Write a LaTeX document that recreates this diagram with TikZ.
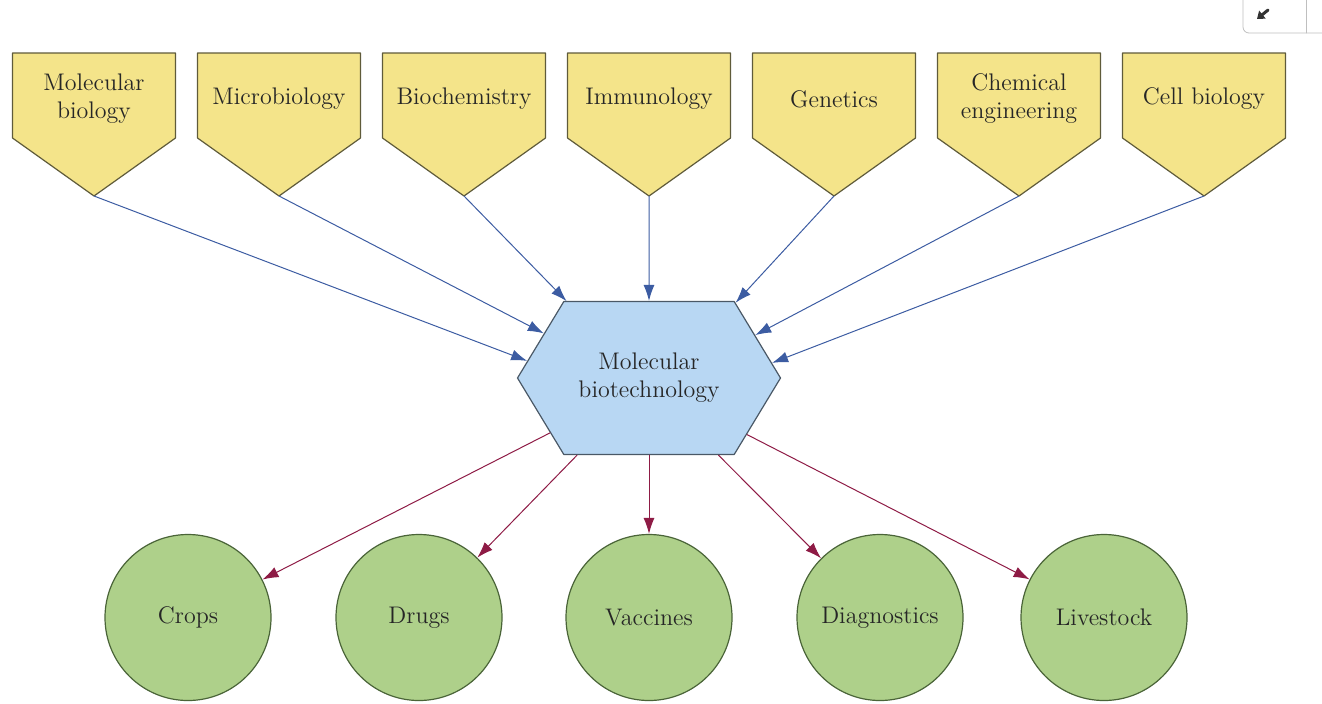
\documentclass[tikz,border=0pt]{standalone}
\usetikzlibrary{shapes.symbols,arrows.meta}
\definecolor{fieldfill}{HTML}{F4E48A}
\definecolor{fieldline}{HTML}{5F5B3A}
\definecolor{corefill}{HTML}{B8D7F3}
\definecolor{coreline}{HTML}{4A5866}
\definecolor{prodfill}{HTML}{AED08A}
\definecolor{prodline}{HTML}{4A6438}
\definecolor{feedblue}{HTML}{3C5CA2}
\definecolor{yieldred}{HTML}{8E1B45}
\begin{document}
\begin{tikzpicture}[
        x=0.5pt, y=-0.5pt,
        line cap=round,
        line join=round,
        every node/.style={font=\large, text=black!85},
        fieldshape/.style={draw=fieldline, fill=fieldfill, line width=0.6pt},
        field/.style={align=center, inner sep=0pt, minimum width=81.5pt, minimum height=42.5pt},
        core/.style={signal, signal to=east and west, signal pointer angle=117.6,
            draw=coreline, fill=corefill, line width=0.6pt, align=center,
            inner sep=0pt, minimum width=131.5pt, minimum height=76.5pt},
        product/.style={circle, draw=prodline, fill=prodfill, line width=0.6pt,
            inner sep=0pt, minimum size=83pt},
        feed/.style={draw=feedblue, line width=0.5pt, -{Latex[length=8pt,width=5.5pt]}},
        yield/.style={draw=yieldred, line width=0.5pt, -{Latex[length=8pt,width=5.5pt]}}
    ]
        \useasboundingbox (0,0) rectangle (1322,703);
        % Source fields (pentagons pointing down)
        \foreach \nm/\px/\txt in {molbio/94/{Molecular\\biology}, microbio/279/{Microbiology},
                biochem/464/{Biochemistry}, immuno/649/{Immunology}, genetics/834/{Genetics},
                chemeng/1019/{Chemical\\engineering}, cellbio/1204/{Cell biology}}{
            \filldraw[fieldshape] (\px-81.5,53) -- (\px+81.5,53) -- (\px+81.5,138)
                -- (\px,196) -- (\px-81.5,138) -- cycle;
            \node[field] (\nm) at (\px,99) {\txt};
            \coordinate (\nm tip) at (\px,196);
        }
        % Central field
        \node[core] (core) at (649,378) {Molecular\\biotechnology};
        % Products
        \foreach \nm/\px/\txt in {crops/188/Crops, drugs/419/Drugs, vaccines/649/Vaccines,
                diagnostics/880/Diagnostics, livestock/1104/Livestock}{
            \node[product] (\nm) at (\px,617.5) {\txt};
        }
        % Inputs
        \foreach \nm/\ang in {molbio/172.8, microbio/157.9, biochem/137.8, immuno/90,
                genetics/41.6, chemeng/22.1, cellbio/7.1}{
            \draw[feed] (\nm tip) -- (core.\ang);
        }
        % Outputs
        \foreach \nm/\ang in {crops/209.4, drugs/227.3, vaccines/270,
                diagnostics/312.7, livestock/330.6}{
            \draw[yield] (core.\ang) -- (\nm);
        }
        % Corner button
        \draw[black!25, rounded corners=3pt] (1243,-10) -- (1243,33) -- (1340,33);
        \draw[black!25] (1306,0) -- (1306,33);
        \draw[black!80, line width=1.5pt, -{Triangle[length=3.5pt,width=5pt]}] (1268,10) -- (1257,19);
    \end{tikzpicture}
\end{document}
